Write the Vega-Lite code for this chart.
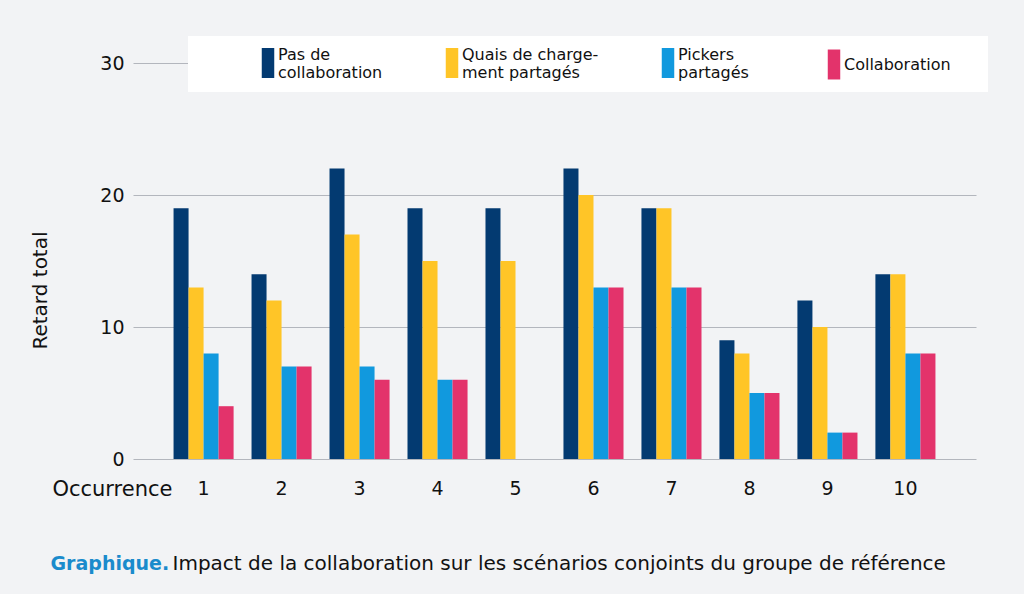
{
  "$schema": "https://vega.github.io/schema/vega-lite/v6.json",
  "width": 843,
  "height": 396,
  "autosize": {"type": "none"},
  "padding": {"left": 133, "top": 63, "right": 48, "bottom": 135},
  "background": "#f2f3f5",
  "config": {"view": {"stroke": null}, "font": "DejaVu Sans"},
  "data": {
    "values": [
      {"occurrence": 1, "serie": "Pas de collaboration", "retard": 19},
      {"occurrence": 1, "serie": "Quais de chargement partagés", "retard": 13},
      {"occurrence": 1, "serie": "Pickers partagés", "retard": 8},
      {"occurrence": 1, "serie": "Collaboration", "retard": 4},
      {"occurrence": 2, "serie": "Pas de collaboration", "retard": 14},
      {"occurrence": 2, "serie": "Quais de chargement partagés", "retard": 12},
      {"occurrence": 2, "serie": "Pickers partagés", "retard": 7},
      {"occurrence": 2, "serie": "Collaboration", "retard": 7},
      {"occurrence": 3, "serie": "Pas de collaboration", "retard": 22},
      {"occurrence": 3, "serie": "Quais de chargement partagés", "retard": 17},
      {"occurrence": 3, "serie": "Pickers partagés", "retard": 7},
      {"occurrence": 3, "serie": "Collaboration", "retard": 6},
      {"occurrence": 4, "serie": "Pas de collaboration", "retard": 19},
      {"occurrence": 4, "serie": "Quais de chargement partagés", "retard": 15},
      {"occurrence": 4, "serie": "Pickers partagés", "retard": 6},
      {"occurrence": 4, "serie": "Collaboration", "retard": 6},
      {"occurrence": 5, "serie": "Pas de collaboration", "retard": 19},
      {"occurrence": 5, "serie": "Quais de chargement partagés", "retard": 15},
      {"occurrence": 6, "serie": "Pas de collaboration", "retard": 22},
      {"occurrence": 6, "serie": "Quais de chargement partagés", "retard": 20},
      {"occurrence": 6, "serie": "Pickers partagés", "retard": 13},
      {"occurrence": 6, "serie": "Collaboration", "retard": 13},
      {"occurrence": 7, "serie": "Pas de collaboration", "retard": 19},
      {"occurrence": 7, "serie": "Quais de chargement partagés", "retard": 19},
      {"occurrence": 7, "serie": "Pickers partagés", "retard": 13},
      {"occurrence": 7, "serie": "Collaboration", "retard": 13},
      {"occurrence": 8, "serie": "Pas de collaboration", "retard": 9},
      {"occurrence": 8, "serie": "Quais de chargement partagés", "retard": 8},
      {"occurrence": 8, "serie": "Pickers partagés", "retard": 5},
      {"occurrence": 8, "serie": "Collaboration", "retard": 5},
      {"occurrence": 9, "serie": "Pas de collaboration", "retard": 12},
      {"occurrence": 9, "serie": "Quais de chargement partagés", "retard": 10},
      {"occurrence": 9, "serie": "Pickers partagés", "retard": 2},
      {"occurrence": 9, "serie": "Collaboration", "retard": 2},
      {"occurrence": 10, "serie": "Pas de collaboration", "retard": 14},
      {"occurrence": 10, "serie": "Quais de chargement partagés", "retard": 14},
      {"occurrence": 10, "serie": "Pickers partagés", "retard": 8},
      {"occurrence": 10, "serie": "Collaboration", "retard": 8}
    ]
  },
  "layer": [
    {
      "mark": {"type": "bar"},
      "encoding": {
        "x": {
          "field": "occurrence",
          "type": "ordinal",
          "scale": {"paddingInner": 0.23, "paddingOuter": 0.52},
          "axis": {
            "title": "Occurrence",
            "labelAngle": 0,
            "domain": false,
            "ticks": false,
            "grid": false,
            "labelPadding": 20,
            "labelFontSize": 19,
            "labelColor": "#111111",
            "titleFontSize": 21,
            "titleFontWeight": "normal",
            "titleColor": "#111111",
            "titleX": 39,
            "titleY": 19,
            "titleAlign": "right",
            "titleBaseline": "top"
          }
        },
        "xOffset": {
          "field": "serie",
          "sort": ["Pas de collaboration", "Quais de chargement partagés", "Pickers partagés", "Collaboration"]
        },
        "y": {
          "field": "retard",
          "type": "quantitative",
          "scale": {"domain": [0, 30]},
          "axis": {
            "title": "Retard total",
            "values": [0, 10, 20, 30],
            "domain": false,
            "ticks": false,
            "labelPadding": 9,
            "labelFontSize": 19,
            "labelColor": "#111111",
            "gridColor": "#b3b6bd",
            "gridWidth": 1,
            "titleFontSize": 20,
            "titleFontWeight": "normal",
            "titleColor": "#111111",
            "titleX": -93,
            "titleY": 227,
            "titleAlign": "center",
            "titleBaseline": "middle"
          }
        },
        "color": {
          "field": "serie",
          "type": "nominal",
          "scale": {
            "domain": ["Pas de collaboration", "Quais de chargement partagés", "Pickers partagés", "Collaboration"],
            "range": ["#033a71", "#ffc527", "#1199de", "#e3336b"]
          },
          "legend": {
            "orient": "none",
            "legendX": 55,
            "legendY": -27,
            "direction": "horizontal",
            "columns": 4,
            "fillColor": "white",
            "padding": 11,
            "symbolType": "M-1,-1.12H1V3.68H-1Z",
            "symbolSize": 156,
            "symbolStrokeWidth": 0,
            "symbolOpacity": 1,
            "labelFontSize": 16,
            "labelColor": "#111111",
            "labelOffset": 2,
            "columnPadding": 61,
            "labelLimit": 300,
            "title": "MMMM",
            "titleOrient": "left",
            "titleColor": "transparent",
            "titleFontSize": 15,
            "titlePadding": 1,
            "labelExpr": "datum.label == 'Pas de collaboration' ? ['Pas de', 'collaboration'] : datum.label == 'Quais de chargement partagés' ? ['Quais de charge-', 'ment partagés'] : datum.label == 'Pickers partagés' ? ['Pickers', 'partagés\u00a0\u00a0\u00a0\u200b'] : datum.label + '\u00a0\u00a0\u00a0\u00a0\u00a0\u200b'",
            "encode": {
              "labels": {"update": {"dy": {"signal": "datum.value == 'Collaboration' ? 8 : 0"}}}
            }
          }
        }
      }
    },
    {
      "mark": {"type": "bar", "opacity": 0},
      "encoding": {
        "x": {
          "field": "occurrence",
          "type": "ordinal",
          "axis": {
            "orient": "top",
            "title": "Impact de la collaboration sur les scénarios conjoints du groupe de référence",
            "labels": false,
            "ticks": false,
            "domain": false,
            "grid": false,
            "titleX": 39,
            "titleY": 500,
            "titleAlign": "left",
            "titleBaseline": "middle",
            "titleFontSize": 20,
            "titleFontWeight": "normal",
            "titleColor": "#111111",
            "titleLimit": 1000
          }
        },
        "xOffset": {
          "field": "serie",
          "sort": ["Pas de collaboration", "Quais de chargement partagés", "Pickers partagés", "Collaboration"]
        },
        "y": {
          "field": "retard",
          "type": "quantitative",
          "scale": {"domain": [0, 30]},
          "axis": {
            "orient": "right",
            "title": "Graphique.",
            "labels": false,
            "ticks": false,
            "domain": false,
            "grid": false,
            "titleAngle": 0,
            "titleX": -926,
            "titleY": 500,
            "titleAlign": "left",
            "titleBaseline": "middle",
            "titleFontSize": 19,
            "titleFontWeight": "bold",
            "titleColor": "#1a8bcc"
          }
        }
      }
    }
  ],
  "resolve": {"scale": {"y": "independent", "x": "independent"}}
}
